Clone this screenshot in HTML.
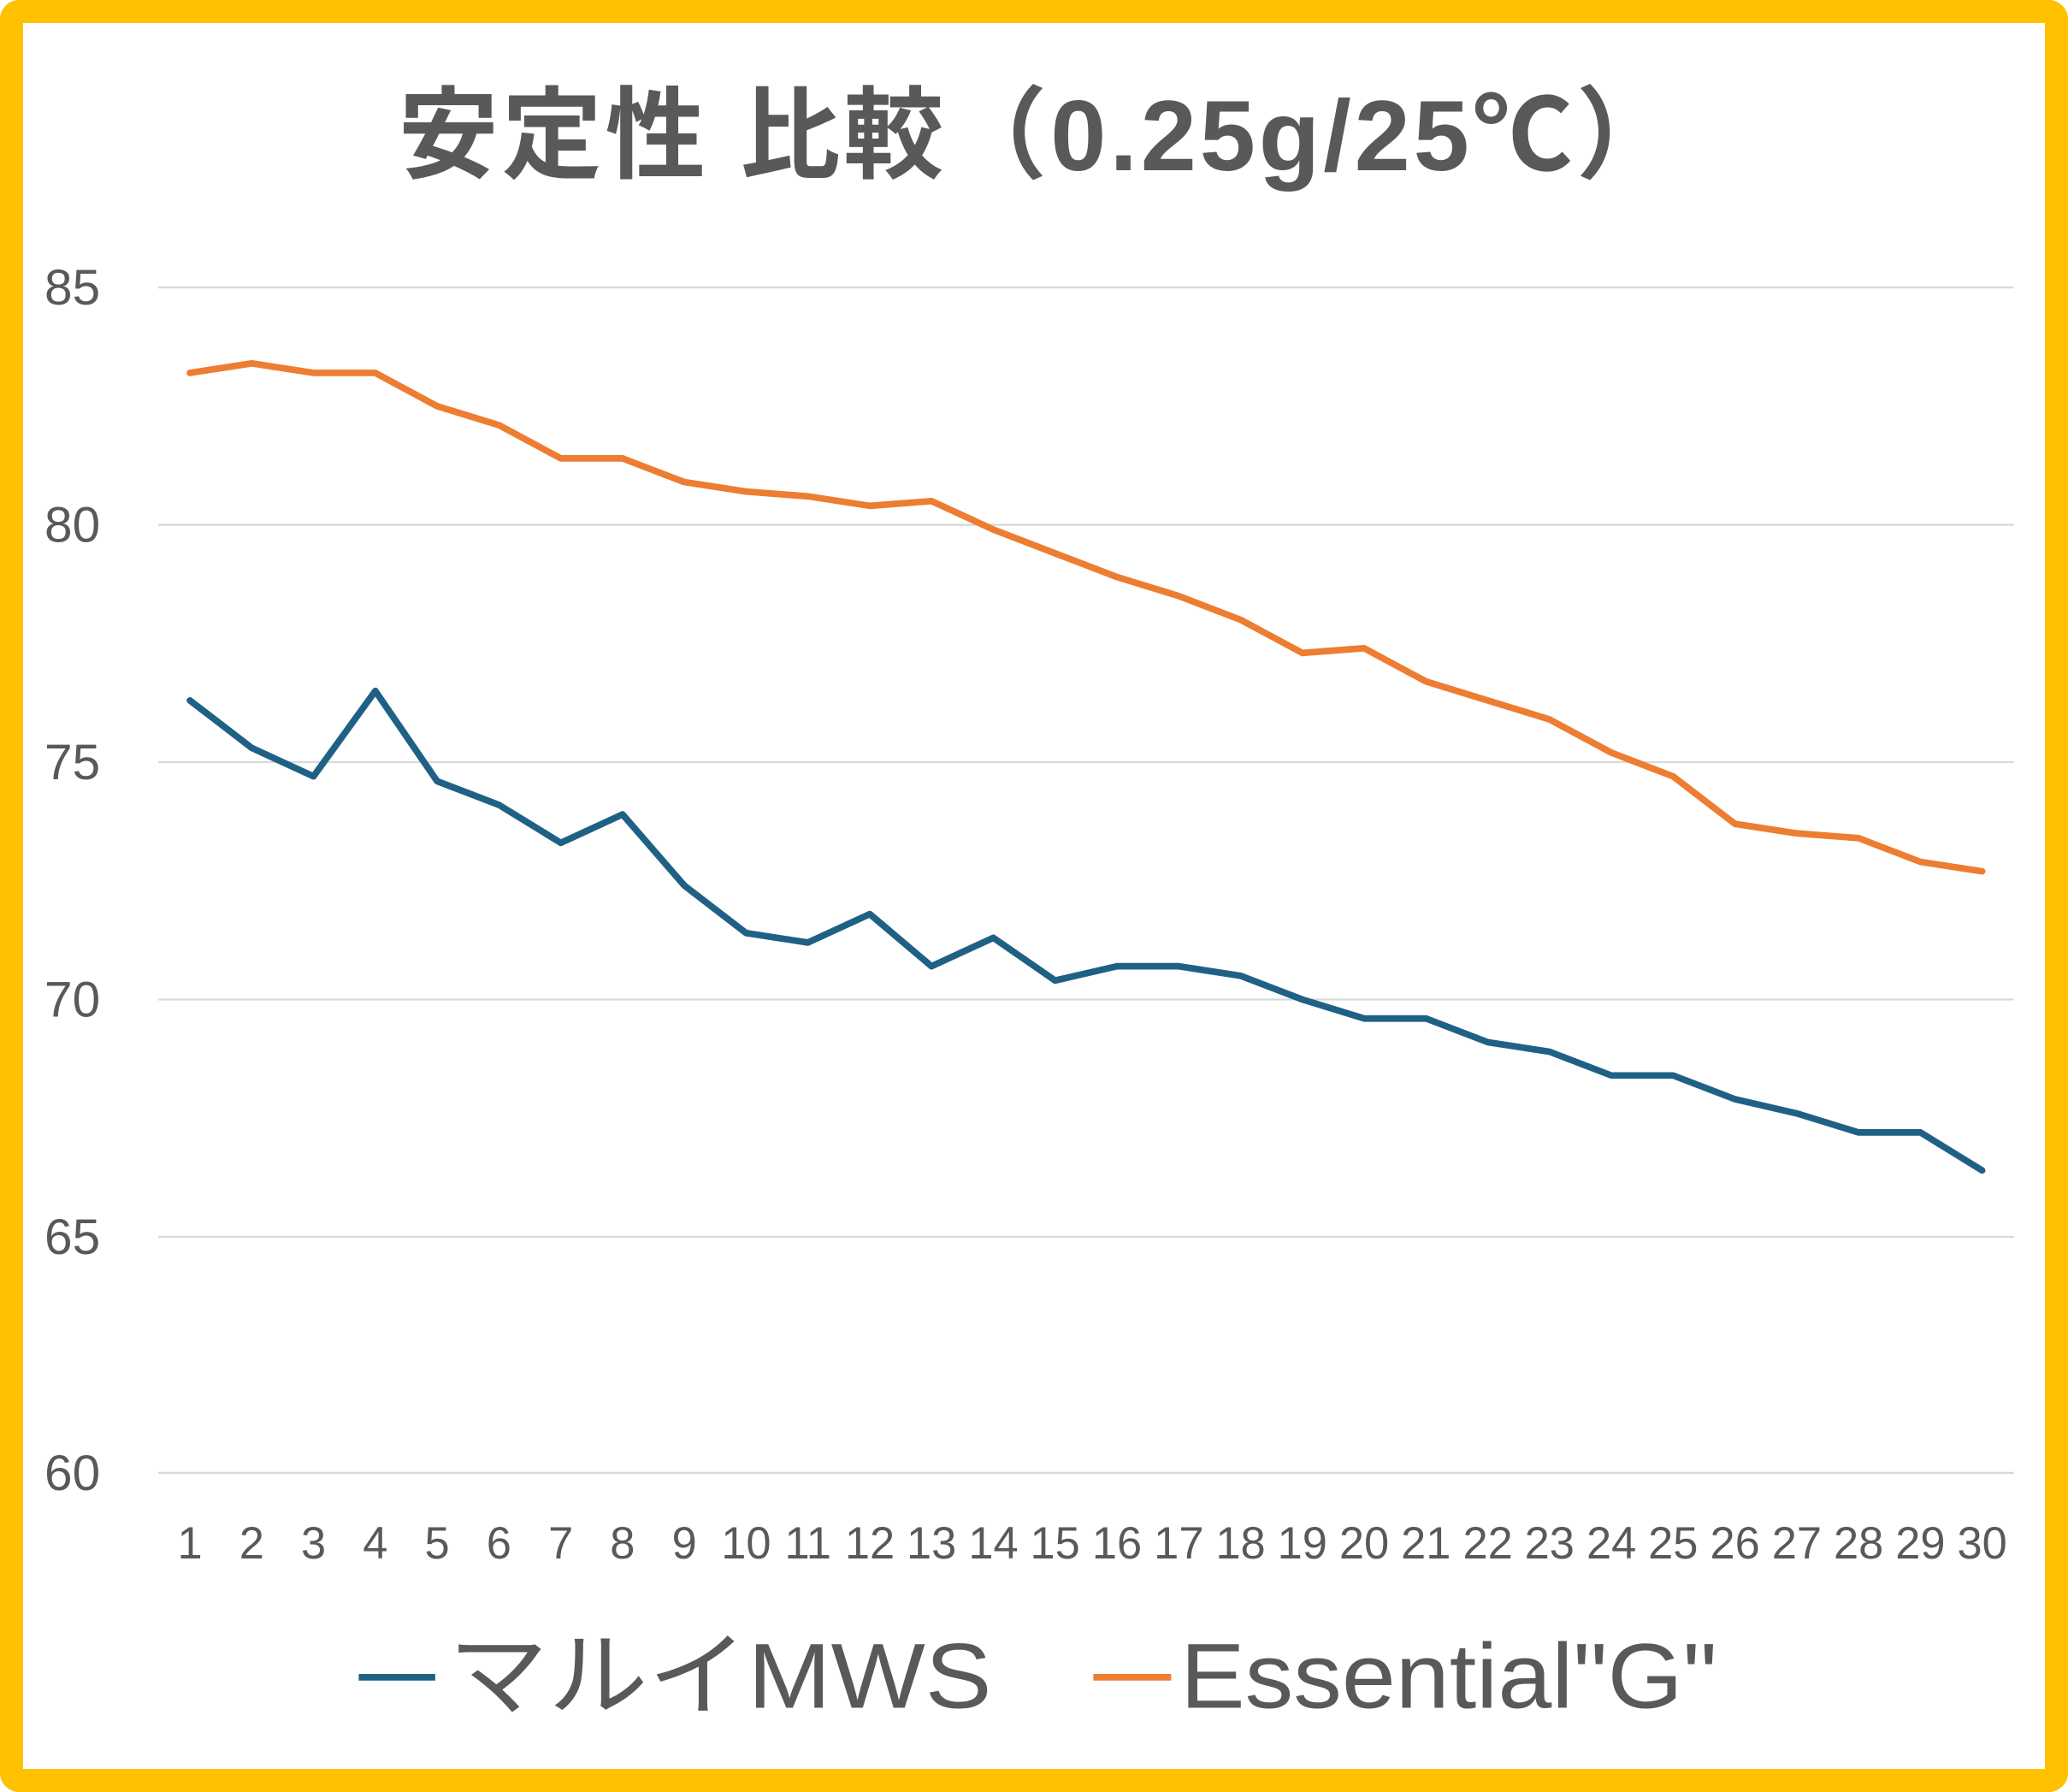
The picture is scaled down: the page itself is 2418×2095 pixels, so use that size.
<!DOCTYPE html>
<html><head><meta charset="utf-8"><style>html,body{margin:0;padding:0;background:#fff}svg{display:block}</style></head>
<body>
<svg width="2418" height="2095" viewBox="0 0 1568 1359" preserveAspectRatio="none" xmlns="http://www.w3.org/2000/svg">
<rect x="0" y="0" width="1568" height="1359" fill="#fff"/>
<rect x="8.7" y="8.7" width="1550.6" height="1341.6" rx="6" fill="#fff" stroke="#FFC000" stroke-width="17.5"/>
<text x="302" y="129" letter-spacing="2.5" font-family="'Liberation Sans','Noto Sans CJK JP',sans-serif" font-weight="bold" font-size="76" fill="#595959">安定性 比較（0.25g/25℃）</text>
<g stroke="#d9d9d9" stroke-width="1.5">
<line x1="120" x2="1527" y1="218" y2="218"/><line x1="120" x2="1527" y1="398" y2="398"/><line x1="120" x2="1527" y1="578" y2="578"/><line x1="120" x2="1527" y1="758" y2="758"/><line x1="120" x2="1527" y1="938" y2="938"/><line x1="120" x2="1527" y1="1117" y2="1117"/>
</g>
<g font-family="'Liberation Sans',sans-serif" font-size="38" fill="#595959" text-anchor="end">
<text x="76" y="231">85</text><text x="76" y="411">80</text><text x="76" y="591">75</text><text x="76" y="771">70</text><text x="76" y="951">65</text><text x="76" y="1130">60</text>
</g>
<g id="xl" font-family="'Liberation Sans',sans-serif" font-size="34" fill="#595959" text-anchor="middle"></g>
<polyline id="o" fill="none" stroke="#ED7D31" stroke-width="5" stroke-linejoin="round" stroke-linecap="round"/>
<polyline id="b" fill="none" stroke="#1F6185" stroke-width="5" stroke-linejoin="round" stroke-linecap="round"/>
<line x1="272" x2="330" y1="1272" y2="1272" stroke="#1F6185" stroke-width="5"/>
<text x="340" y="1295" textLength="412" lengthAdjust="spacingAndGlyphs" font-family="'Liberation Sans','Noto Sans CJK JP',sans-serif" font-size="70" fill="#595959">マルイMWS</text>
<line x1="829" x2="888" y1="1272" y2="1272" stroke="#ED7D31" stroke-width="5"/>
<text x="895" y="1295" textLength="407" lengthAdjust="spacingAndGlyphs" font-family="'Liberation Sans',sans-serif" font-size="70" fill="#595959">Essential"G"</text>
</svg>
<script>
var o=[83.2,83.4,83.2,83.2,82.5,82.1,81.4,81.4,80.9,80.7,80.6,80.4,80.5,79.9,79.4,78.9,78.5,78.0,77.3,77.4,76.7,76.3,75.9,75.2,74.7,73.7,73.5,73.4,72.9,72.7];
var b=[76.3,75.3,74.7,76.5,74.6,74.1,73.3,73.9,72.4,71.4,71.2,71.8,70.7,71.3,70.4,70.7,70.7,70.5,70.0,69.6,69.6,69.1,68.9,68.4,68.4,67.9,67.6,67.2,67.2,66.4];
function pts(a){return a.map(function(v,i){return (144+46.86*i).toFixed(1)+","+(218+(85-v)*36).toFixed(1)}).join(" ")}
document.getElementById("o").setAttribute("points",pts(o));
document.getElementById("b").setAttribute("points",pts(b));
var g=document.getElementById("xl"),h="";
for(var i=0;i<30;i++){h+='<text x="'+(144+46.86*i).toFixed(1)+'" y="1182">'+(i+1)+'</text>';}
g.innerHTML=h;
</script>
</body></html>
